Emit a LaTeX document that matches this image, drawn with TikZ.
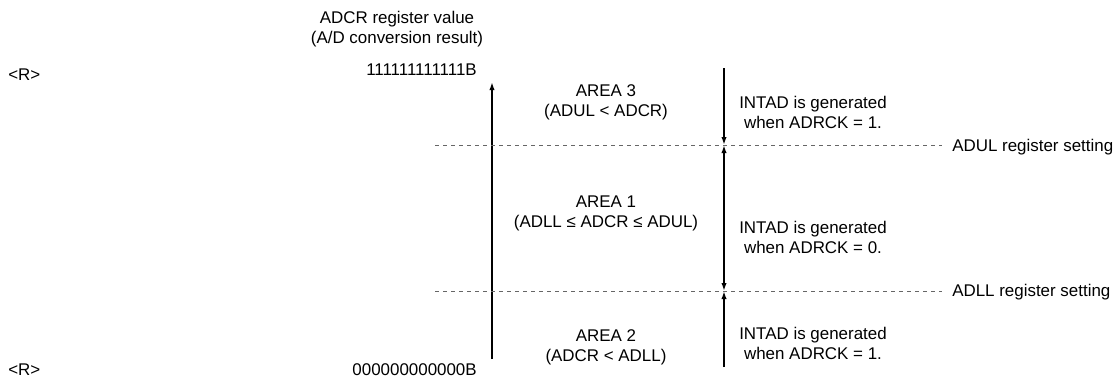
\documentclass[tikz,border=0pt]{standalone}
\usepackage{fontspec}
\setmainfont{Liberation Sans}
\usetikzlibrary{arrows.meta,positioning}

\begin{document}
\begin{tikzpicture}[x=0.75pt, y=-0.75pt,
    txt/.style={font=\fontsize{12.7}{15}\selectfont, inner sep=0pt, align=center},
    val_conn/.style={-{Latex[length=6pt,width=4pt]}, line width=1.4pt},
    int_conn/.style={-{Latex[length=6pt,width=4pt]}, line width=1.4pt},
    both_conn/.style={{Latex[length=6pt,width=4pt]}-{Latex[length=6pt,width=4pt]}, line width=1.4pt},
    set_line/.style={dash pattern=on 3pt off 3pt, draw=black!60, line width=0.5pt}
]
    \useasboundingbox (0,0) rectangle (1116,380);

    % Revision marks
    \node[txt, anchor=west] (r_top) at (8,75) {<R>};
    \node[txt, anchor=west] (r_bot) at (8,370) {<R>};

    % ADCR value axis
    \node[txt] (adcr_title) at (397,29) {ADCR register value\\(A/D conversion result)};
    \node[txt, anchor=east] (v_max) at (477,70) {111111111111B};
    \node[txt, anchor=east] (v_min) at (477,370) {000000000000B};
    \coordinate (ax_bot) at (492,359);
    \coordinate (ax_top) at (492,82);
    \draw[val_conn] (ax_bot) -- (ax_top);

    % Register settings
    \node[txt, anchor=west] (s_adul) at (952,147) {ADUL register setting};
    \node[txt, anchor=west] (s_adll) at (952,292) {ADLL register setting};
    \coordinate (ul_left) at (435,145);
    \coordinate (ll_left) at (435,291);
    \draw[set_line] (ul_left) -- ([xshift=-7.5pt]ul_left -| s_adul.west);
    \draw[set_line] (ll_left) -- ([xshift=-7.5pt]ll_left -| s_adll.west);

    % Areas
    \node[txt] (a_3) at (606,102) {AREA 3\\(ADUL < ADCR)};
    \node[txt] (a_1) at (606,213) {AREA 1\\(ADLL ≤ ADCR ≤ ADUL)};
    \node[txt] (a_2) at (606,347) {AREA 2\\(ADCR < ADLL)};

    % INTAD generation
    \coordinate (i_top) at (724,68);
    \coordinate (i_ul) at (724,145);
    \coordinate (i_ll) at (724,291);
    \coordinate (i_bot) at (724,367);
    \draw[int_conn] (i_top) -- (i_ul);
    \draw[both_conn] (i_ul) -- (i_ll);
    \draw[int_conn] (i_bot) -- (i_ll);
    \node[txt] (g_3) at (813,112) {INTAD is generated\\when ADRCK = 1.};
    \node[txt] (g_1) at (813,237) {INTAD is generated\\when ADRCK = 0.};
    \node[txt] (g_2) at (813,343) {INTAD is generated\\when ADRCK = 1.};

\end{tikzpicture}
\end{document}
